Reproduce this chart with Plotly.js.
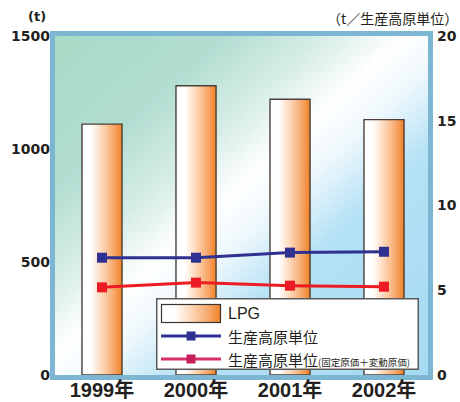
<!DOCTYPE html>
<html>
<head>
<meta charset="utf-8">
<script src="https://cdn.plot.ly/plotly-3.0.1.min.js"></script>
<style>
  html, body { margin: 0; padding: 0; background: #ffffff; }
  #chart { width: 460px; height: 402px; }
</style>
</head>
<body>
<div id="chart"></div>
<script>
// ---- data ----
const years = ['1999年', '2000年', '2001年', '2002年'];
const lpgTonnes = [1110, 1280, 1220, 1130];              // LPG (t), left axis
const unitPerOutput = [6.92, 6.92, 7.22, 7.27];          // 生産高原単位, right axis
const unitPerOutputCost = [5.17, 5.45, 5.27, 5.21];      // 生産高原単位(固定原価＋変動原価), right axis
const leftTicks = [0, 500, 1000, 1500];
const rightTicks = [0, 5, 10, 15, 20];

// ---- geometry ----
const W = 460, H = 402;
const M = { l: 55, r: 32, t: 36, b: 27 };
const PW = W - M.l - M.r, PH = H - M.t - M.b;
const px = x => (x - M.l) / PW;            // pixel -> paper x
const py = y => (H - M.b - y) / PH;        // pixel -> paper y

const INK = '#231f20';
const BLUE = '#2e3192';
const RED = '#ed1c24';

// bar fill: white on the left to orange on the right
const barStops = [[0, [255, 255, 255]], [0.22, [255, 255, 255]], [0.5, [253, 216, 184]],
                  [0.78, [247, 170, 112]], [1, [239, 130, 38]]];
function barColor(t) {
  for (let k = 1; k < barStops.length; k++) {
    const [t1, c1] = barStops[k];
    const [t0, c0] = barStops[k - 1];
    if (t <= t1) {
      const f = (t - t0) / (t1 - t0 || 1);
      const c = c0.map((v, j) => Math.round(v + (c1[j] - v) * f));
      return `rgb(${c.join(',')})`;
    }
  }
  return 'rgb(239,130,38)';
}

const barW = 0.426;
const slices = 28;
const traces = [];
for (let i = 0; i < slices; i++) {
  traces.push({
    type: 'bar', x: years, y: lpgTonnes,
    offset: -barW / 2 + i * barW / slices,
    width: barW - i * barW / slices,
    marker: { color: barColor((i + 0.5) / slices), line: { width: 0 } },
    showlegend: false, hoverinfo: 'skip'
  });
}
// bar outlines
traces.push({
  type: 'bar', x: years, y: lpgTonnes, name: 'LPG',
  offset: -barW / 2, width: barW,
  marker: { color: 'rgba(0,0,0,0)', line: { color: '#4a4039', width: 1.4 } },
  showlegend: false, hoverinfo: 'skip'
});
traces.push({
  type: 'scatter', mode: 'lines+markers', x: years, y: unitPerOutput, yaxis: 'y2',
  name: '生産高原単位',
  line: { color: BLUE, width: 3 },
  marker: { symbol: 'square', size: 10, color: BLUE },
  showlegend: false, hoverinfo: 'skip'
});
traces.push({
  type: 'scatter', mode: 'lines+markers', x: years, y: unitPerOutputCost, yaxis: 'y2',
  name: '生産高原単位(固定原価＋変動原価)',
  line: { color: RED, width: 3 },
  marker: { symbol: 'square', size: 10, color: RED },
  showlegend: false, hoverinfo: 'skip'
});

// plot-area background gradient (green top-left, white diagonal, blue bottom-right)
const bgSvg = `<svg xmlns="http://www.w3.org/2000/svg" width="${PW}" height="${PH}" viewBox="0 0 ${PW} ${PH}" preserveAspectRatio="none">
<defs><linearGradient id="g" x1="0" y1="0" x2="1" y2="1">
<stop offset="0" stop-color="#a8dac5"/><stop offset="0.22" stop-color="#b1ddd1"/>
<stop offset="0.36" stop-color="#d6ede7"/><stop offset="0.47" stop-color="#ffffff"/>
<stop offset="0.55" stop-color="#eef8fc"/><stop offset="0.67" stop-color="#b4e1f5"/>
<stop offset="1" stop-color="#a5daf3"/></linearGradient></defs>
<rect width="${PW}" height="${PH}" fill="url(#g)"/></svg>`;

// legend panel with the LPG swatch
const LG = { x: 156, y: 298, w: 263, h: 72 };
const legSvg = `<svg xmlns="http://www.w3.org/2000/svg" width="${LG.w}" height="${LG.h}" viewBox="0 0 ${LG.w} ${LG.h}" preserveAspectRatio="none">
<defs><linearGradient id="b" x1="0" y1="0" x2="1" y2="0">
<stop offset="0" stop-color="#ffffff"/><stop offset="0.22" stop-color="#ffffff"/>
<stop offset="0.5" stop-color="#fdd8b8"/><stop offset="0.78" stop-color="#f7aa70"/>
<stop offset="1" stop-color="#ef8226"/></linearGradient></defs>
<rect x="0.75" y="0.75" width="${LG.w - 1.5}" height="${LG.h - 1.5}" fill="#ffffff" stroke="#5a5a5a" stroke-width="1.5"/>
<rect x="5.5" y="6.5" width="59" height="18" fill="url(#b)" stroke="#3a3330" stroke-width="1.2"/></svg>`;
const svgUri = s => 'data:image/svg+xml;charset=utf-8,' + encodeURIComponent(s);

const legendRows = [
  { y: 336, line: BLUE, mark: BLUE },
  { y: 359, line: '#d6336b', mark: '#c41f5c' }
];
const shapes = [
  // thick blue frame around the plot area
  { type: 'rect', xref: 'paper', yref: 'paper', layer: 'below',
    x0: -2.5 / PW, x1: 1 + 2.5 / PW, y0: -2.5 / PH, y1: 1 + 2.5 / PH,
    line: { color: '#7cb6d2', width: 5 }, fillcolor: 'rgba(0,0,0,0)' }
];
legendRows.forEach(r => {
  shapes.push({ type: 'line', xref: 'paper', yref: 'paper', layer: 'above',
    x0: px(161), x1: px(221), y0: py(r.y), y1: py(r.y), line: { color: r.line, width: 3 } });
  shapes.push({ type: 'rect', xref: 'paper', yref: 'paper', layer: 'above',
    x0: px(186.5), x1: px(195.5), y0: py(r.y + 4.5), y1: py(r.y - 4.5),
    fillcolor: r.mark, line: { width: 0 } });
});

const cjk = '"Noto Sans CJK JP", "Liberation Sans", sans-serif';
const annotations = [
  { text: '(t)', x: px(48), y: py(17), xanchor: 'right', yanchor: 'middle',
    font: { family: 'DejaVu Sans, sans-serif', size: 13, color: INK, weight: 'bold' } },
  { text: '（t／生産高原単位）', x: px(459), y: py(18), xanchor: 'right', yanchor: 'middle',
    borderpad: 0, font: { family: cjk, size: 14, color: INK } },
  { text: 'LPG', x: px(226), y: py(313), xanchor: 'left', yanchor: 'middle',
    font: { family: '"Liberation Sans", sans-serif', size: 16, color: INK } },
  { text: '生産高原単位', x: px(226), y: py(336), xanchor: 'left', yanchor: 'middle',
    font: { family: cjk, size: 15, color: INK } },
  { text: '生産高原単位<span style="font-size:9.5px">(固定原価＋変動原価)</span>',
    x: px(226), y: py(359), xanchor: 'left', yanchor: 'middle',
    font: { family: cjk, size: 15, color: INK } }
].map(a => Object.assign({ xref: 'paper', yref: 'paper', showarrow: false }, a));

const tickFont = { family: 'DejaVu Sans, sans-serif', size: 14, color: INK, weight: 'bold' };

const layout = {
  width: W, height: H,
  margin: M,
  paper_bgcolor: '#ffffff',
  plot_bgcolor: 'rgba(0,0,0,0)',
  barmode: 'overlay',
  showlegend: false,
  xaxis: {
    type: 'category', range: [-0.5, 3.468],
    showgrid: false, zeroline: false, showline: false, ticks: '',
    ticklabelstandoff: 1,
    tickfont: { family: '"Liberation Sans", "Noto Sans CJK JP", sans-serif', size: 20, color: INK, weight: 'bold' }
  },
  yaxis: {
    range: [0, 1500], tickvals: leftTicks, ticktext: leftTicks.map(String),
    showgrid: false, zeroline: false, showline: false, ticks: '',
    ticklabelstandoff: 4, tickfont: tickFont
  },
  yaxis2: {
    overlaying: 'y', side: 'right', range: [0, 20],
    tickvals: rightTicks, ticktext: rightTicks.map(String),
    showgrid: false, zeroline: false, showline: false, ticks: '',
    ticklabelstandoff: 8, tickfont: tickFont
  },
  images: [
    { source: svgUri(bgSvg), xref: 'paper', yref: 'paper', x: 0, y: 1, sizex: 1, sizey: 1,
      xanchor: 'left', yanchor: 'top', sizing: 'stretch', layer: 'below' },
    { source: svgUri(legSvg), xref: 'paper', yref: 'paper', x: px(LG.x), y: py(LG.y),
      sizex: LG.w / PW, sizey: LG.h / PH, xanchor: 'left', yanchor: 'top', sizing: 'stretch', layer: 'above' }
  ],
  shapes: shapes,
  annotations: annotations
};

Plotly.newPlot('chart', traces, layout, { staticPlot: true, displayModeBar: false });
</script>
</body>
</html>
